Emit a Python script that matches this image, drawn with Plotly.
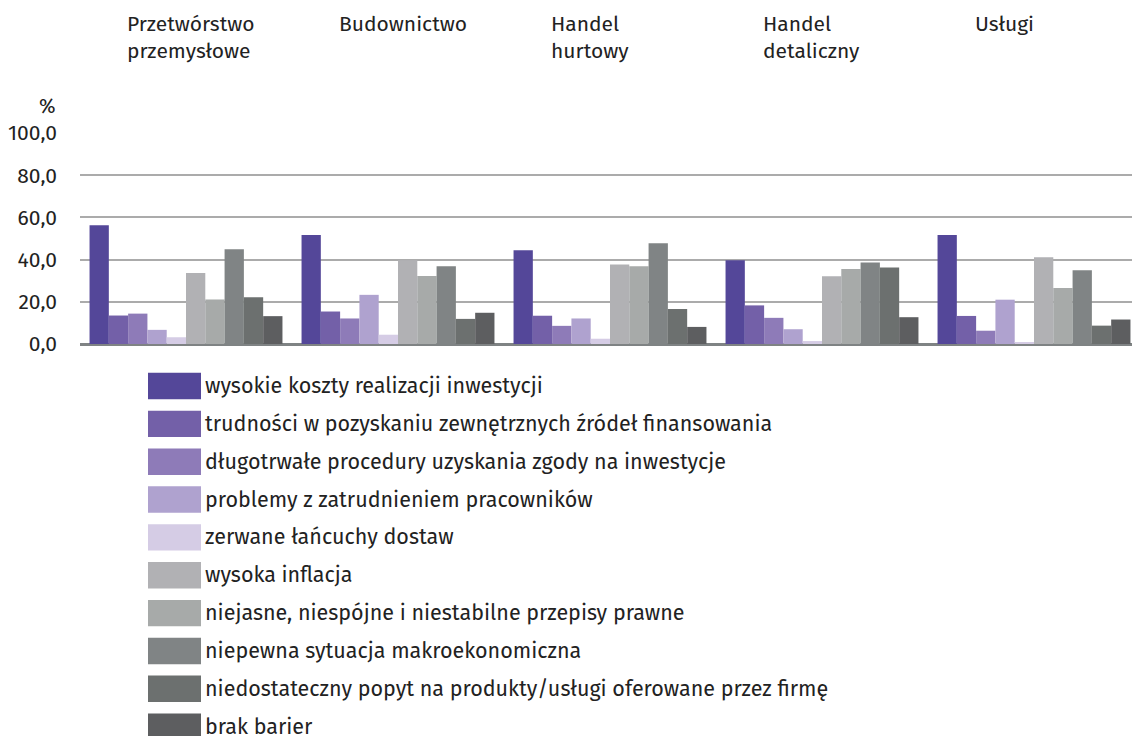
import plotly.graph_objects as go

categories = ["Przetwórstwo<br>przemysłowe", "Budownictwo", "Handel<br>hurtowy", "Handel<br>detaliczny", "Usługi"]

series_names = [
    "wysokie koszty realizacji inwestycji",
    "trudności w pozyskaniu zewnętrznych źródeł finansowania",
    "długotrwałe procedury uzyskania zgody na inwestycje",
    "problemy z zatrudnieniem pracowników",
    "zerwane łańcuchy dostaw",
    "wysoka inflacja",
    "niejasne, niespójne i niestabilne przepisy prawne",
    "niepewna sytuacja makroekonomiczna",
    "niedostateczny popyt na produkty/usługi oferowane przez firmę",
    "brak barier",
]

wysokie_koszty = [56.3, 51.6, 44.4, 39.7, 51.6]
trudnosci_finansowanie = [13.5, 15.4, 13.4, 18.3, 13.3]
procedury = [14.4, 12.1, 8.6, 12.4, 6.3]
zatrudnienie = [6.7, 23.3, 12.1, 7.0, 21.0]
lancuchy_dostaw = [3.2, 4.4, 2.5, 1.4, 0.6]
inflacja = [33.7, 39.7, 37.7, 32.1, 41.1]
przepisy = [21.1, 32.2, 36.8, 35.6, 26.5]
sytuacja_makro = [44.9, 36.8, 47.8, 38.6, 34.9]
popyt = [22.1, 11.9, 16.6, 36.2, 8.7]
brak_barier = [13.2, 14.8, 8.1, 12.7, 11.6]

series_values = [wysokie_koszty, trudnosci_finansowanie, procedury, zatrudnienie,
                 lancuchy_dostaw, inflacja, przepisy, sytuacja_makro, popyt, brak_barier]

colors = ["#544799", "#7360a8", "#8e7bb8", "#afa2cf", "#d5cce5",
          "#b1b1b4", "#a7aaa9", "#808485", "#6c706f", "#5d5e60"]

y_ticks = [0, 20, 40, 60, 80, 100]

FONT = "Fira Sans, Noto Sans, Open Sans, sans-serif"
# figure is slightly wider than the window: the right edge of the chart is cut, as in the reference
W, H = 1140, 736
ML, MR, MT = 80, 0, 133
MB = H - 344

fig = go.Figure()
for name, vals, col in zip(series_names, series_values, colors):
    fig.add_trace(go.Bar(x=categories, y=vals, name=name,
                         marker=dict(color=col, line=dict(width=0)),
                         showlegend=False))

fig.update_layout(
    width=W, height=H,
    margin=dict(l=ML, r=MR, t=MT, b=MB),
    barmode="group", bargap=0.09, bargroupgap=0,
    plot_bgcolor="white", paper_bgcolor="white",
    separators=", ",
    font=dict(family=FONT, color="#222222", size=20),
    xaxis=dict(showticklabels=False, showgrid=False, zeroline=False,
               showline=False, ticks=""),
    yaxis=dict(range=[0, 100], tickvals=y_ticks, tickformat=".1f",
               showgrid=True, gridcolor="#ababab", gridwidth=1.5,
               zeroline=True, zerolinecolor="#7f8384", zerolinewidth=2.5,
               ticks="", ticklabelstandoff=22,
               tickfont=dict(size=21, color="#222222")),
)

# category labels above the plot
for cat in categories:
    fig.add_annotation(x=cat, xref="x", y=1, yref="paper", yshift=124,
                       xanchor="left", yanchor="top", xshift=-61,
                       text=cat, showarrow=False, align="left",
                       font=dict(size=21, color="#222222", family=FONT))

# unit label
fig.add_annotation(x=0, xref="paper", y=1, yref="paper", yshift=13, xshift=-22,
                   xanchor="right", yanchor="bottom", text="%", showarrow=False,
                   font=dict(size=20, color="#222222", family=FONT))

# custom legend (pixel positions converted to paper coordinates)
plot_h = H - MT - MB
plot_w = W - ML - MR

def px_to_paper_x(px):
    return (px - ML) / plot_w

def px_to_paper_y(py):
    return (H - MB - py) / plot_h

row0, row_step = 386, 37.85
for i, (name, col) in enumerate(zip(series_names, colors)):
    cy = row0 + i * row_step
    fig.add_shape(type="rect", xref="paper", yref="paper",
                  x0=px_to_paper_x(148), x1=px_to_paper_x(201),
                  y0=px_to_paper_y(cy + 13.2), y1=px_to_paper_y(cy - 13.2),
                  fillcolor=col, line=dict(width=0))
    fig.add_annotation(x=px_to_paper_x(203), y=px_to_paper_y(cy), xref="paper", yref="paper",
                       xanchor="left", yanchor="middle", text=name, showarrow=False,
                       font=dict(size=21.5, color="#222222", family=FONT))

fig.write_html(
    "out.html",
    config={"displayModeBar": False},
    post_script="document.body.style.margin='0';document.body.style.overflow='hidden';",
)
